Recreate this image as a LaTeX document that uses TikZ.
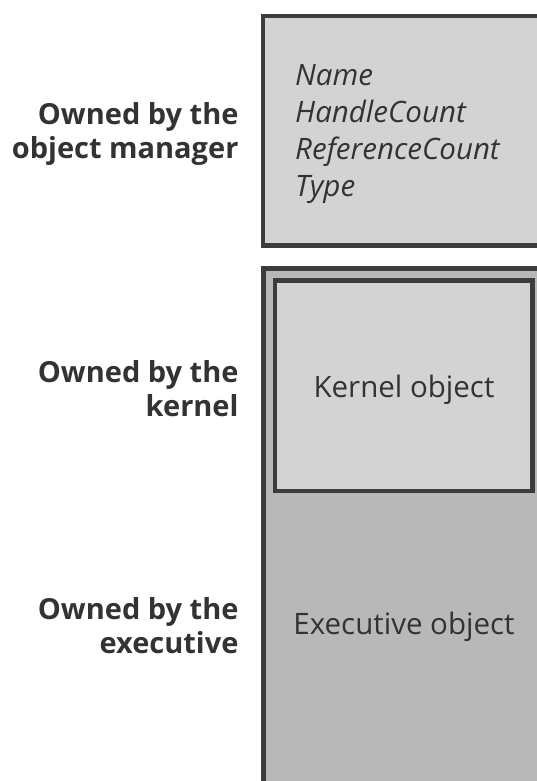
\documentclass[tikz,border=0pt]{standalone}
\usepackage{fontspec}
\setmainfont{Open Sans}
\usepackage{tikz}
\definecolor{edgegray}{HTML}{3C3C3C}
\definecolor{lightfill}{HTML}{D3D3D3}
\definecolor{darkfill}{HTML}{B8B8B8}
\definecolor{txtgray}{HTML}{333333}

\begin{document}
\begin{tikzpicture}[x=1pt,y=-1pt,
    part/.style={draw=edgegray,line width=4.5pt,anchor=north west,inner sep=0pt,outer sep=0pt},
    owner/.style={anchor=east,align=right,text=txtgray,font=\fontsize{29}{34}\selectfont\bfseries},
    field/.style={anchor=north west,align=left,text=txtgray,font=\fontsize{29.5}{37}\selectfont\itshape,inner sep=0pt},
    inside/.style={anchor=base,text=txtgray,font=\fontsize{29.5}{30}\selectfont,inner sep=0pt}]
    \useasboundingbox (0,0) rectangle (536,781);
    % Object header
    \node[part,fill=lightfill,minimum width=300pt,minimum height=229.5pt] (header) at (263,16) {};
    \node[field] (fields) at (295,64) {Name\\HandleCount\\ReferenceCount\\Type};
    % Object body
    \node[part,fill=darkfill,minimum width=300pt,minimum height=540pt] (body) at (263.5,268.5) {};
    \node[part,fill=lightfill,minimum width=257.5pt,minimum height=210.5pt] (kernel) at (275,280.5) {};
    \node[inside] (kernellbl) at (404,397) {Kernel object};
    \node[inside] (execlbl) at (404,634) {Executive object};
    % Owners
    \node[owner] (bymgr) at (242,134) {Owned by the\\object manager};
    \node[owner] (bykernel) at (242,389) {Owned by the\\kernel};
    \node[owner] (byexec) at (242,626) {Owned by the\\executive};
\end{tikzpicture}
\end{document}
